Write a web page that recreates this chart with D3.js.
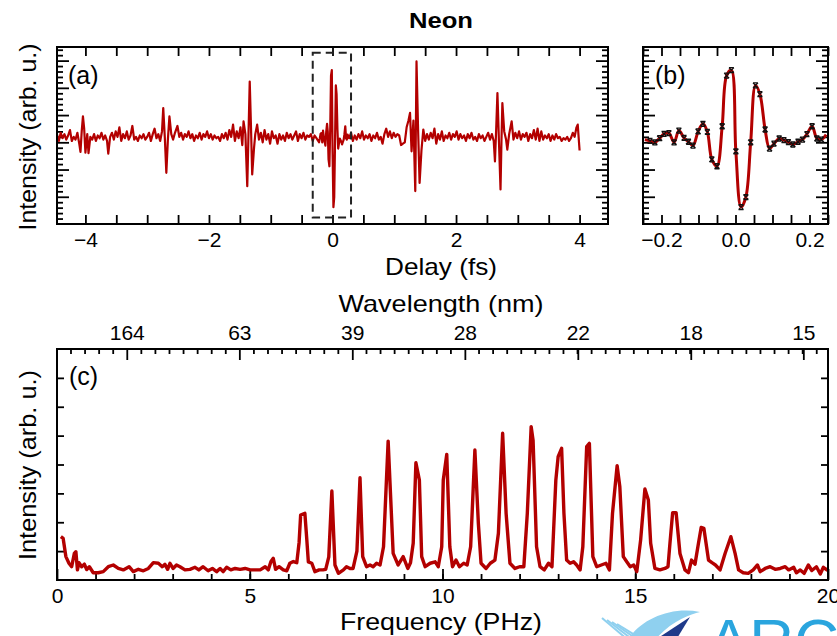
<!DOCTYPE html>
<html>
<head>
<meta charset="utf-8">
<script src="https://cdn.jsdelivr.net/npm/d3@7"></script>
<style>
  body { margin: 0; background: #fff; }
  svg { display: block; font-family: 'Liberation Sans', Arial, sans-serif; }
</style>
</head>
<body>
<div id="chart"></div>
<script>
const width = 837;
const height = 636;
const red = '#b30000';

// (a) delay scan, left of the zoom window: [delay fs, intensity]
const delayTraceLeft = [
  [-4.46,0.28],[-4.43,0.05],[-4.40,0.35],[-4.37,0.15],[-4.34,0.30],[-4.31,0.10],[-4.28,0.25],[-4.25,0.45],
  [-4.22,0.05],[-4.19,0.20],[-4.16,0.10],[-4.13,0.35],[-4.10,-0.05],[-4.08,-0.35],[-4.06,0.40],[-4.04,0.95],
  [-4.02,0.50],[-4.00,-0.38],[-3.97,0.30],[-3.95,-0.40],[-3.92,0.20],[-3.89,0.10],[-3.86,0.30],[-3.83,0.05],
  [-3.80,0.25],[-3.77,0.15],[-3.74,0.35],[-3.71,0.10],[-3.68,0.25],[-3.65,0.05],[-3.63,-0.42],[-3.60,0.20],
  [-3.57,0.35],[-3.54,0.10],[-3.51,0.40],[-3.48,0.20],[-3.45,0.55],[-3.42,0.05],[-3.39,0.30],[-3.36,0.15],
  [-3.33,0.40],[-3.30,0.10],[-3.27,0.25],[-3.24,0.60],[-3.21,0.10],[-3.18,0.20],[-3.15,0.05],[-3.12,0.25],
  [-3.09,0.15],[-3.06,0.30],[-3.03,0.10],[-3.00,0.20],[-2.97,0.35],[-2.94,0.05],[-2.91,0.30],[-2.88,0.50],
  [-2.85,0.15],[-2.82,0.30],[-2.79,0.05],[-2.76,0.40],[-2.74,1.26],[-2.715,0.20],[-2.69,-1.12],[-2.665,0.10],
  [-2.64,0.95],[-2.61,0.30],[-2.58,0.10],[-2.55,0.35],[-2.51,0.60],[-2.48,0.20],[-2.45,0.35],[-2.42,0.10],
  [-2.39,0.30],[-2.36,0.20],[-2.33,0.40],[-2.30,0.15],[-2.27,0.30],[-2.24,0.05],[-2.21,0.25],[-2.18,0.15],
  [-2.15,0.35],[-2.12,0.10],[-2.09,0.30],[-2.06,0.20],[-2.03,0.40],[-2.00,0.15],[-1.97,0.30],[-1.94,0.10],
  [-1.91,0.25],[-1.88,0.15],[-1.85,0.20],[-1.82,0.05],[-1.79,0.30],[-1.76,0.15],[-1.73,0.35],[-1.70,0.10],
  [-1.67,0.45],[-1.64,0.20],[-1.61,0.65],[-1.58,0.05],[-1.55,0.40],[-1.52,0.15],[-1.49,0.55],[-1.46,-0.10],
  [-1.44,0.77],[-1.41,0.30],[-1.38,-1.61],[-1.36,0.30],[-1.34,2.23],[-1.32,0.60],[-1.30,-1.18],[-1.27,-0.20],
  [-1.25,0.30],[-1.22,0.65],[-1.19,0.10],[-1.16,0.35],[-1.13,0.00],[-1.10,0.45],[-1.07,0.10],[-1.04,0.30],
  [-1.01,-0.05],[-0.98,0.40],[-0.95,0.15],[-0.92,0.25],[-0.89,-0.05],[-0.86,0.30],[-0.83,0.10],[-0.80,0.25],
  [-0.77,0.05],[-0.74,0.35],[-0.71,0.15],[-0.68,0.30],[-0.65,0.10],[-0.62,0.25],[-0.59,0.40],[-0.56,0.05],
  [-0.53,0.30],[-0.50,0.15],[-0.47,0.35],[-0.44,0.10],[-0.41,0.25],[-0.38,0.20],[-0.35,0.30],[-0.32,0.05],
  [-0.29,0.25],[-0.26,0.15]
];

// (b) samples inside the zoom window (also part of trace a)
const zoomSamples = [
  [-0.245,0.10],[-0.231,0.05],[-0.218,0.00],[-0.205,0.15],[-0.193,0.31],[-0.180,0.34],[-0.166,0.00],
  [-0.153,0.43],[-0.139,0.16],[-0.127,0.02],[-0.115,-0.12],[-0.101,0.40],[-0.088,0.68],[-0.076,0.38],
  [-0.064,-0.63],[-0.050,-0.88],[-0.036,0.59],[-0.024,2.45],[-0.011,2.65],[0.001,-0.33],[0.015,-2.38],
  [0.028,-2.01],[0.041,0.00],[0.054,2.09],[0.066,1.77],[0.080,0.47],[0.092,-0.23],[0.104,-0.05],
  [0.118,0.14],[0.131,0.08],[0.143,0.01],[0.155,-0.08],[0.169,0.02],[0.181,0.10],[0.193,0.30],
  [0.207,0.59],[0.220,0.14],[0.232,0.10],[0.245,0.28]
];

// (a) delay scan, right of the zoom window
const delayTraceRight = [
  [0.27,0.15],[0.30,0.35],[0.33,0.05],[0.36,0.25],[0.39,0.10],[0.42,0.30],[0.45,0.15],[0.48,0.40],
  [0.51,0.10],[0.54,0.25],[0.57,0.15],[0.60,0.30],[0.63,0.05],[0.66,0.25],[0.69,0.15],[0.72,0.35],
  [0.75,0.10],[0.78,0.20],[0.81,-0.05],[0.84,0.30],[0.87,0.50],[0.90,0.20],[0.93,0.40],[0.96,0.15],
  [0.99,0.35],[1.02,0.20],[1.05,0.30],[1.08,0.25],[1.11,-0.10],[1.14,-0.05],[1.17,0.00],[1.20,0.55],
  [1.23,0.80],[1.255,1.08],[1.28,-0.33],[1.31,0.80],[1.34,-1.79],[1.36,2.97],[1.385,0.50],[1.41,-1.49],
  [1.44,-0.30],[1.47,0.47],[1.50,0.05],[1.53,0.30],[1.56,0.10],[1.59,0.35],[1.62,0.15],[1.65,0.50],
  [1.68,-0.05],[1.71,0.30],[1.74,0.10],[1.77,0.40],[1.80,0.05],[1.83,0.25],[1.86,0.15],[1.89,0.35],
  [1.92,0.10],[1.95,0.30],[1.98,0.20],[2.01,0.40],[2.04,0.10],[2.07,0.30],[2.10,0.15],[2.13,0.25],
  [2.16,0.05],[2.19,0.30],[2.22,0.15],[2.25,0.35],[2.28,0.10],[2.31,0.20],[2.34,0.05],[2.37,0.30],
  [2.40,0.15],[2.43,0.25],[2.46,0.05],[2.49,0.20],[2.52,0.35],[2.55,0.10],[2.58,0.30],[2.61,0.05],
  [2.63,-0.70],[2.65,0.50],[2.67,1.81],[2.695,0.00],[2.72,-1.73],[2.735,0.00],[2.75,1.44],[2.78,0.40],
  [2.81,0.10],[2.83,-0.27],[2.86,0.30],[2.90,0.77],[2.93,0.10],[2.96,0.35],[2.99,0.15],[3.02,0.40],
  [3.05,0.10],[3.08,0.30],[3.11,0.20],[3.14,0.35],[3.17,0.05],[3.20,0.30],[3.23,0.15],[3.26,0.45],
  [3.29,0.10],[3.32,0.50],[3.35,0.05],[3.38,0.40],[3.41,0.10],[3.44,0.25],[3.47,0.15],[3.50,0.30],
  [3.53,0.05],[3.56,0.25],[3.59,0.10],[3.62,0.30],[3.65,0.15],[3.68,0.20],[3.71,0.05],[3.74,0.15],
  [3.77,0.10],[3.80,0.20],[3.83,0.05],[3.86,0.15],[3.89,0.35],[3.92,0.20],[3.95,0.55],[3.97,0.65],
  [4.00,-0.30]
];

// (c) spectrum: [frequency PHz, intensity]
const spectrum = [
  [0.10,1.50],[0.16,1.44],[0.23,0.81],[0.31,0.58],[0.38,0.46],[0.45,0.92],[0.49,0.98],[0.53,0.35],
  [0.57,0.60],[0.64,0.46],[0.71,0.55],[0.77,0.36],[0.84,0.46],[0.94,0.25],[1.07,0.25],[1.20,0.29],
  [1.33,0.46],[1.46,0.52],[1.59,0.40],[1.72,0.35],[1.87,0.46],[1.98,0.29],[2.11,0.37],[2.24,0.32],
  [2.37,0.40],[2.50,0.60],[2.63,0.58],[2.73,0.46],[2.80,0.54],[2.87,0.37],[2.93,0.58],[3.01,0.40],
  [3.10,0.52],[3.19,0.46],[3.32,0.35],[3.45,0.37],[3.58,0.44],[3.68,0.35],[3.79,0.46],[3.92,0.32],
  [4.03,0.40],[4.14,0.29],[4.23,0.40],[4.31,0.29],[4.40,0.44],[4.51,0.35],[4.62,0.40],[4.75,0.37],
  [4.88,0.40],[5.01,0.35],[5.14,0.35],[5.27,0.35],[5.40,0.46],[5.48,0.35],[5.55,0.64],[5.61,0.75],
  [5.67,0.37],[5.76,0.46],[5.87,0.35],[5.96,0.32],[6.04,0.58],[6.13,0.64],[6.22,0.60],
  [6.28,1.30],[6.32,2.25],[6.43,2.31],[6.48,1.40],[6.52,0.63],[6.61,0.58],[6.69,0.29],[6.80,0.35],
  [6.90,0.35],[6.97,0.37],
  [7.05,0.80],[7.13,3.08],[7.21,0.52],[7.30,0.23],[7.43,0.35],[7.51,0.46],[7.60,0.40],[7.68,0.40],
  [7.78,1.00],[7.86,3.54],[7.93,0.81],[8.03,0.46],[8.12,0.52],[8.20,0.46],[8.29,0.58],[8.38,0.52],
  [8.47,1.15],[8.59,4.81],[8.72,0.92],[8.85,0.52],[8.98,0.81],[9.10,0.40],[9.17,0.60],
  [9.24,1.27],[9.31,4.06],[9.40,3.46],[9.46,0.81],[9.55,0.46],[9.68,0.58],[9.81,0.63],[9.89,0.46],
  [9.98,1.15],[10.02,3.46],[10.11,4.35],[10.19,1.15],[10.26,0.46],[10.35,0.69],[10.44,0.46],[10.55,0.58],
  [10.64,0.52],
  [10.73,1.15],[10.84,4.50],[10.93,1.96],[11.00,0.58],[11.13,0.40],[11.24,0.58],[11.36,0.69],
  [11.45,1.62],[11.56,5.08],[11.65,2.31],[11.75,0.58],[11.88,0.40],[12.00,0.46],[12.11,0.46],
  [12.20,2.31],[12.30,5.31],[12.35,4.83],[12.44,1.15],[12.53,0.46],[12.64,0.35],[12.75,0.58],[12.84,0.46],
  [12.94,3.46],[13.00,4.27],[13.09,4.56],[13.15,2.31],[13.22,0.69],[13.31,0.58],[13.40,0.63],[13.48,0.52],
  [13.57,0.35],
  [13.64,1.15],[13.74,4.62],[13.81,4.73],[13.90,0.81],[14.00,0.46],[14.12,0.52],[14.24,0.58],[14.33,0.35],
  [14.41,2.31],[14.53,3.96],[14.60,3.23],[14.69,0.81],[14.78,0.63],[14.87,0.46],[14.96,0.52],[15.04,0.29],
  [15.14,1.39],[15.25,3.15],[15.34,2.77],[15.40,1.27],[15.51,0.40],[15.64,0.35],[15.77,0.40],[15.85,0.46],
  [15.90,1.27],[15.97,2.33],[16.06,2.33],[16.16,0.92],[16.29,0.35],[16.38,0.25],[16.46,0.69],[16.55,0.55],
  [16.64,1.27],[16.71,1.82],[16.78,1.79],[16.90,0.69],[16.99,0.60],[17.08,0.52],[17.20,0.35],
  [17.33,0.92],[17.48,1.50],[17.59,0.92],[17.68,0.35],[17.80,0.25],[17.93,0.23],[18.06,0.35],[18.17,0.52],
  [18.24,0.29],[18.37,0.40],[18.50,0.46],[18.63,0.37],[18.76,0.40],[18.89,0.46],[18.98,0.35],[19.11,0.44],
  [19.18,0.25],[19.28,0.35],[19.38,0.23],[19.49,0.52],[19.58,0.33],[19.70,0.46],[19.80,0.21],[19.88,0.44],
  [19.97,0.35],[20.00,0.38]
];

// top axis of (c): tick positions (PHz) and their wavelength labels (nm)
const wavelengthTickFreqs = [1.81, 4.73, 7.66, 10.58, 13.51, 16.44, 19.36];
const wavelengthLabels = ['164', '63', '39', '28', '22', '18', '15'];

const delayLabels = [-4, -2, 0, 2, 4];
const zoomLabels = [-0.2, 0, 0.2];
const freqLabels = [0, 5, 10, 15, 20];
const zoomWindow = [-0.32, 0.30];

// panel boxes
const boxA = { left: 57, right: 608, top: 47, bottom: 224 };
const boxB = { left: 643, right: 828, top: 47, bottom: 224 };
const boxC = { left: 57, right: 828, top: 349, bottom: 580 };

const svg = d3.select('#chart').append('svg')
  .attr('width', width)
  .attr('height', height);

const xA = d3.scaleLinear().domain([-4.46, 4.46]).range([boxA.left, boxA.right]);
const yA = d3.scaleLinear().domain([-3, 3.5]).range([boxA.bottom, boxA.top]);
const xB = d3.scaleLinear().domain([-0.25, 0.25]).range([boxB.left, boxB.right]);
const yB = d3.scaleLinear().domain([-3, 3.5]).range([boxB.bottom, boxB.top]);
const xC = d3.scaleLinear().domain([0, 20]).range([boxC.left, boxC.right]);
const yC = d3.scaleLinear().domain([0, 8]).range([boxC.bottom, boxC.top]);

function clip(id, box) {
  svg.append('clipPath').attr('id', id).append('rect')
    .attr('x', box.left).attr('y', box.top)
    .attr('width', box.right - box.left).attr('height', box.bottom - box.top);
}
clip('clipA', boxA);
clip('clipB', boxB);
clip('clipC', boxC);

// draw ticks with d3.axis, inward, no domain line
function ticks(axis, transform, fontSize) {
  const g = svg.append('g').attr('transform', transform).call(axis);
  g.select('.domain').remove();
  g.attr('font-size', fontSize || 21).attr('font-family', null);
  g.selectAll('line').attr('stroke-width', 1.8);
  return g;
}

function frame(box) {
  svg.append('rect')
    .attr('x', box.left).attr('y', box.top)
    .attr('width', box.right - box.left).attr('height', box.bottom - box.top)
    .attr('fill', 'none').attr('stroke', '#000').attr('stroke-width', 2);
}

const inDomain = (s) => (v) => v >= s.domain()[0] - 1e-9 && v <= s.domain()[1] + 1e-9;
const intFmt = d3.format('d');
const oneFmt = d3.format('.1f');

// ---- y ticks shared by (a) and (b)
const yMajor = d3.range(-2, 4, 1);
const yMinor = d3.range(-3, 3.5, 0.2).filter((v) => Math.abs(v - Math.round(v)) > 0.01);
function yTicks(box, y) {
  ticks(d3.axisLeft(y).tickValues(yMajor).tickSize(-12).tickFormat(''), `translate(${box.left},0)`);
  ticks(d3.axisLeft(y).tickValues(yMinor).tickSize(-6).tickFormat(''), `translate(${box.left},0)`);
  ticks(d3.axisRight(y).tickValues(yMajor).tickSize(-12).tickFormat(''), `translate(${box.right},0)`);
  ticks(d3.axisRight(y).tickValues(yMinor).tickSize(-6).tickFormat(''), `translate(${box.right},0)`);
}

// ---- panel (a)
const aTicks = d3.range(-4.5, 4.51, 0.5).filter(inDomain(xA));
ticks(d3.axisBottom(xA).tickValues(aTicks).tickSize(-9).tickPadding(8)
  .tickFormat((d) => (delayLabels.includes(d) ? intFmt(d) : '')), `translate(0,${boxA.bottom})`);
ticks(d3.axisTop(xA).tickValues(aTicks).tickSize(-9).tickFormat(''), `translate(0,${boxA.top})`);
yTicks(boxA, yA);

const traceA = delayTraceLeft.concat(zoomSamples, delayTraceRight);
svg.append('path')
  .datum(traceA)
  .attr('clip-path', 'url(#clipA)')
  .attr('fill', 'none')
  .attr('stroke', red)
  .attr('stroke-width', 2.2)
  .attr('stroke-linejoin', 'round')
  .attr('d', d3.line().x((d) => xA(d[0])).y((d) => yA(d[1])));

svg.append('rect')
  .attr('x', xA(zoomWindow[0])).attr('y', yA(3.29))
  .attr('width', xA(zoomWindow[1]) - xA(zoomWindow[0]))
  .attr('height', yA(-2.76) - yA(3.29))
  .attr('fill', 'none').attr('stroke', '#222')
  .attr('stroke-width', 2).attr('stroke-dasharray', '8,5');
frame(boxA);

// ---- panel (b)
const bTicks = d3.range(-0.25, 0.2501, 0.05);
ticks(d3.axisBottom(xB).tickValues(bTicks).tickSize(-9).tickPadding(8)
  .tickFormat((d) => (zoomLabels.some((z) => Math.abs(z - d) < 1e-6) ? oneFmt(d) : '')), `translate(0,${boxB.bottom})`);
ticks(d3.axisTop(xB).tickValues(bTicks).tickSize(-9).tickFormat(''), `translate(0,${boxB.top})`);
yTicks(boxB, yB);

svg.append('path')
  .datum(zoomSamples)
  .attr('clip-path', 'url(#clipB)')
  .attr('fill', 'none')
  .attr('stroke', red)
  .attr('stroke-width', 3)
  .attr('d', d3.line().curve(d3.curveCatmullRom.alpha(0.5)).x((d) => xB(d[0])).y((d) => yB(d[1])));

svg.append('g')
  .selectAll('path')
  .data(zoomSamples.slice(1, -1))
  .join('path')
  .attr('transform', (d) => `translate(${xB(d[0])},${yB(d[1])})`)
  .attr('d', 'M-2.5,-2.5L2.5,2.5M-2.5,2.5L2.5,-2.5M-2.5,-2.5H2.5M-2.5,2.5H2.5')
  .attr('stroke', '#111')
  .attr('stroke-width', 1.3)
  .attr('fill', 'none');
frame(boxB);

// ---- panel (c)
ticks(d3.axisBottom(xC).tickValues(d3.range(1, 20)).tickSize(-6).tickFormat(''), `translate(0,${boxC.bottom})`);
ticks(d3.axisBottom(xC).tickValues(freqLabels).tickSize(-11).tickPadding(8).tickFormat(intFmt), `translate(0,${boxC.bottom})`);

const wlStep = (wavelengthTickFreqs[1] - wavelengthTickFreqs[0]) / 8;
const wlMinor = d3.range(wavelengthTickFreqs[0] - 4 * wlStep, 20, wlStep)
  .filter((f) => !wavelengthTickFreqs.some((m) => Math.abs(m - f) < 0.01));
ticks(d3.axisTop(xC).tickValues(wlMinor).tickSize(-5).tickFormat(''), `translate(0,${boxC.top})`);
ticks(d3.axisTop(xC).tickValues(wavelengthTickFreqs).tickSize(-11).tickPadding(9)
  .tickFormat((d, i) => wavelengthLabels[i]), `translate(0,${boxC.top})`);

const cY = d3.range(1, 8);
ticks(d3.axisLeft(yC).tickValues(cY).tickSize(-7).tickFormat(''), `translate(${boxC.left},0)`);
ticks(d3.axisRight(yC).tickValues(cY).tickSize(-7).tickFormat(''), `translate(${boxC.right},0)`);

svg.append('path')
  .datum(spectrum)
  .attr('clip-path', 'url(#clipC)')
  .attr('fill', 'none')
  .attr('stroke', red)
  .attr('stroke-width', 3.4)
  .attr('stroke-linejoin', 'round')
  .attr('d', d3.line().x((d) => xC(d[0])).y((d) => yC(d[1])));
frame(boxC);

// ---- text (titles are a little wider than Arial in the original)
const txt = (x, y, s, size, opts = {}) => {
  const t = svg.append('text').attr('x', x).attr('y', y).attr('font-size', size).text(s);
  if (opts.anchor) t.attr('text-anchor', opts.anchor);
  if (opts.weight) t.attr('font-weight', opts.weight);
  if (opts.rotate) t.attr('transform', `rotate(-90,${x},${y})`);
  if (opts.len) t.attr('textLength', opts.len).attr('lengthAdjust', 'spacingAndGlyphs');
  return t;
};
txt(441, 28, 'Neon', 22, { anchor: 'middle', weight: 'bold', len: 64 });
txt(68, 84, '(a)', 25);
txt(655, 84, '(b)', 25);
txt(69, 385, '(c)', 25);
txt(441, 275, 'Delay (fs)', 24, { anchor: 'middle', len: 112 });
txt(441, 312, 'Wavelength (nm)', 24, { anchor: 'middle', len: 205 });
txt(441, 630, 'Frequency (PHz)', 24, { anchor: 'middle', len: 202 });
txt(36, 137, 'Intensity (arb. u.)', 24, { anchor: 'middle', rotate: true, len: 187 });
txt(36, 465, 'Intensity (arb. u.)', 24, { anchor: 'middle', rotate: true, len: 190 });

// ---- logo fragment, bottom right
const logo = svg.append('g');
[0, 1, 2, 3].forEach((i) => {
  logo.append('line')
    .attr('x1', 602 + i * 5).attr('y1', 618 + i * 2)
    .attr('x2', 628 + i * 5).attr('y2', 640)
    .attr('stroke', '#8fd0ef').attr('stroke-width', 2);
});
logo.append('path')
  .attr('d', 'M628,640 C640,620 670,606 700,612 C690,614 670,622 655,640 Z')
  .attr('fill', '#8fd0ef');
logo.append('path')
  .attr('d', 'M655,640 L690,617 L676,640 Z')
  .attr('fill', '#1f3a8a');
logo.append('text')
  .attr('x', 708).attr('y', 662)
  .attr('font-size', 62)
  .attr('fill', '#2aa5de')
  .text('ARC');
</script>
</body>
</html>
